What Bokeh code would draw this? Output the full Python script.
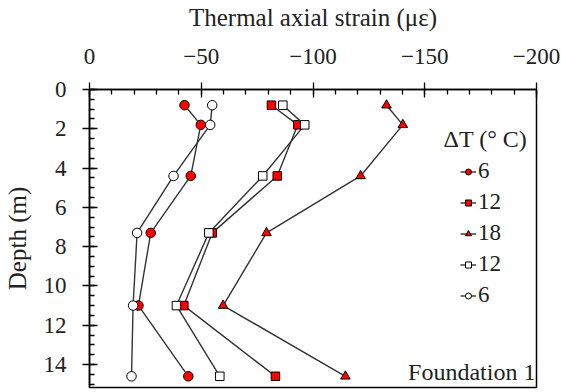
from bokeh.plotting import figure
from bokeh.models import Range1d, Legend, LegendItem, Label, FixedTicker
from bokeh.embed import file_html
from bokeh.resources import INLINE

# ---- data ----
depth = [0.8, 1.8, 4.4, 7.3, 11.0, 14.6]
heat6 = [-42.5, -49.8, -45.3, -27.4, -21.9, -44.2]
heat12 = [-81.4, -93.2, -84.0, -54.9, -42.2, -83.2]
heat18 = [-132.9, -140.2, -121.3, -79.2, -59.8, -114.5]
cool12 = [-86.5, -96.3, -77.5, -53.4, -38.9, -58.3]
cool6 = [-54.9, -54.0, -37.6, -21.3, -19.5, -18.8]
x_ticks = [0, -50, -100, -150, -200]
y_ticks = [0, 2, 4, 6, 8, 10, 12, 14]

FONT = "Liberation Serif"

p = figure(width=561, height=392, output_backend="svg", toolbar_location=None,
           x_range=Range1d(0, -200), y_range=Range1d(15.17, 0),
           x_axis_location="above",
           min_border_left=89, min_border_right=25, min_border_top=89, min_border_bottom=5)
p.grid.visible = False
p.outline_line_color = "black"
p.outline_line_width = 1.5
p.background_fill_color = "white"
p.border_fill_color = "white"

xa = p.xaxis[0]
xa.ticker = FixedTicker(ticks=x_ticks, minor_ticks=list(range(0, -201, -10)))
xa.axis_label = "Thermal axial strain (\u03bc\u03b5)"
ya = p.yaxis[0]
ya.ticker = FixedTicker(ticks=y_ticks, minor_ticks=[i * 0.5 for i in range(31)])
ya.axis_label = "Depth (m)"

for ax in (xa, ya):
    ax.axis_line_color = "black"
    ax.axis_line_width = 1.5
    ax.major_tick_line_color = "black"
    ax.minor_tick_line_color = "black"
    ax.major_tick_line_width = 1.3
    ax.minor_tick_line_width = 1.3
    ax.major_tick_out = 7
    ax.major_tick_in = 8
    ax.minor_tick_out = 0
    ax.minor_tick_in = 5
    ax.major_label_text_font = FONT
    ax.major_label_text_font_size = "23px"
    ax.major_label_text_font_style = "normal"
    ax.major_label_text_color = "#222222"
    ax.axis_label_text_font = FONT
    ax.axis_label_text_font_size = "25px"
    ax.axis_label_text_font_style = "normal"
    ax.axis_label_text_color = "#222222"
xa.major_label_standoff = 19
xa.axis_label_standoff = 15
ya.major_label_standoff = 16
ya.axis_label_standoff = 10

LINE = "#333333"
series = [
    ("6", heat6, "circle", "red", 9.5),
    ("12", heat12, "square", "red", 8.5),
    ("18", heat18, "triangle", "red", 9.5),
    ("12", cool12, "square", "white", 8.5),
    ("6", cool6, "circle", "white", 9.5),
]
items = []
for label, xs, marker, fill, size in series:
    ln = p.line(xs, depth, line_color=LINE, line_width=1.4)
    sc = p.scatter(xs, depth, marker=marker, size=size, fill_color=fill,
                   line_color="black", line_width=1)
    items.append(LegendItem(label=label, renderers=[ln, sc]))

legend = Legend(items=items, location=(371, 79), orientation="vertical",
                padding=0, margin=0, spacing=5, label_standoff=2,
                glyph_width=16, glyph_height=15, label_height=24,
                label_text_font=FONT, label_text_font_size="23px",
                label_text_font_style="normal",
                label_text_color="#222222",
                border_line_color=None, background_fill_alpha=0)
p.add_layout(legend)

p.add_layout(Label(x=-158.4, y=2.5, text="\u0394T (\u00b0 C)", text_font=FONT,
                   text_font_size="24px", text_color="#222222",
                   text_align="left", text_baseline="middle"))
p.add_layout(Label(x=-199.5, y=15.05, text="Foundation 1", text_font=FONT,
                   text_font_size="24px", text_color="#222222",
                   text_align="right", text_baseline="bottom"))

open("out.html", "w").write(file_html(p, INLINE))
